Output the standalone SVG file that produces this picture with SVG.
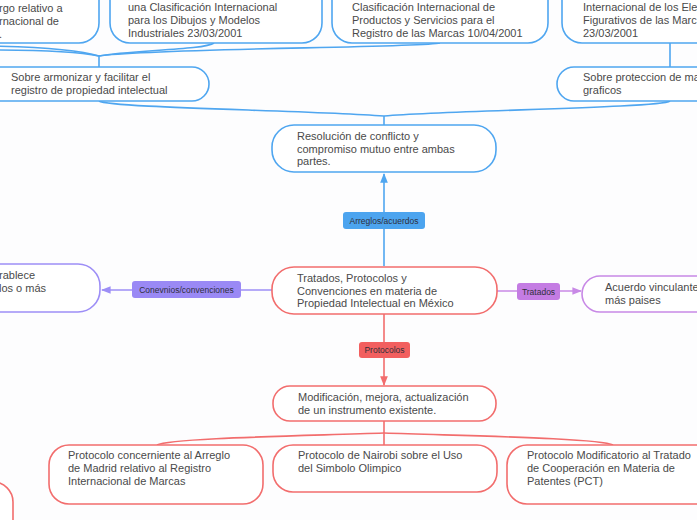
<svg xmlns="http://www.w3.org/2000/svg" width="697" height="520" viewBox="0 0 697 520">
<style>
text{font-family:"Liberation Sans",Arial,sans-serif;font-size:11px;fill:#4a4a4a}
.lbl{font-size:8.5px;fill:#2f2f3a}
.nb{fill:#ffffff;stroke:#4fa6f0;stroke-width:1.6}
.nr{fill:#ffffff;stroke:#f26d6d;stroke-width:1.6}
.np{fill:#ffffff;stroke:#9d8ef6;stroke-width:1.6}
.nm{fill:#ffffff;stroke:#c889e6;stroke-width:1.6}
.cb{fill:none;stroke:#4fa6f0;stroke-width:1.6}
.cr{fill:none;stroke:#f26d6d;stroke-width:1.6}
.cp{fill:none;stroke:#9d8ef6;stroke-width:1.6}
.cm{fill:none;stroke:#c889e6;stroke-width:1.6}
</style>
<defs>
<marker id="ab" viewBox="0 0 10 10" refX="9" refY="5" markerWidth="6" markerHeight="6" orient="auto"><path d="M0,1 L10,5 L0,9 z" fill="#4fa6f0"/></marker>
<marker id="ar" viewBox="0 0 10 10" refX="9" refY="5" markerWidth="6" markerHeight="6" orient="auto"><path d="M0,1 L10,5 L0,9 z" fill="#f26d6d"/></marker>
<marker id="ap" viewBox="0 0 10 10" refX="9" refY="5" markerWidth="6" markerHeight="6" orient="auto"><path d="M0,1 L10,5 L0,9 z" fill="#9d8ef6"/></marker>
<marker id="am" viewBox="0 0 10 10" refX="9" refY="5" markerWidth="6" markerHeight="6" orient="auto"><path d="M0,1 L10,5 L0,9 z" fill="#c889e6"/></marker>
</defs>
<rect width="697" height="520" fill="#fdfdfe"/>

<g id="connectors">
<path class="cb" d="M-10,46 C40,47 80,50 99,56"/>
<path class="cb" d="M-10,50 C40,50 80,52 99,56"/>
<path class="cb" d="M214,43 C205,50 130,50 99,56"/>
<path class="cb" d="M440,43 C420,48 150,48 99,56"/>
<path class="cb" d="M99,56 V67"/>
<path class="cb" d="M670,43 V67"/>
<path class="cb" d="M99,101 C110,108 300,110 384,116"/>
<path class="cb" d="M670,101 C660,108 460,110 384,116"/>
<path class="cb" d="M384,116 V125"/>
<path class="cb" d="M384,266 V174" marker-end="url(#ab)"/>
<path class="cp" d="M272,290 H102" marker-end="url(#ap)"/>
<path class="cm" d="M497,291 H581" marker-end="url(#am)"/>
<path class="cr" d="M384,314 V385" marker-end="url(#ar)"/>
<path class="cr" d="M384,421 V445"/>
<path class="cr" d="M384,433 C300,436 170,438 157,445"/>
<path class="cr" d="M384,433 C470,436 600,438 613,445"/>
</g>

<g id="lbl-arreglos">
<rect x="343" y="212" width="82" height="17" rx="3" fill="#4ca4ef"/>
<text class="lbl" x="384" y="223.5" text-anchor="middle">Arreglos/acuerdos</text>
</g>
<g id="lbl-conv">
<rect x="132" y="281" width="109" height="17" rx="3" fill="#9a89f5"/>
<text class="lbl" x="186.5" y="292.5" text-anchor="middle">Conevnios/convenciones</text>
</g>
<g id="lbl-tratados">
<rect x="517" y="283" width="43" height="17" rx="3" fill="#c47ce3"/>
<text class="lbl" x="538.5" y="294.5" text-anchor="middle">Tratados</text>
</g>
<g id="lbl-protocolos">
<rect x="359" y="342" width="51" height="16" rx="3" fill="#f25f5f"/>
<text class="lbl" x="384.5" y="353" text-anchor="middle">Protocolos</text>
</g>

<g id="n-top-a">
<rect class="nb" x="-120" y="-20" width="219" height="63" rx="20"/>
<text x="-1" y="12">rgo relativo a</text>
<text x="-1" y="25">rnacional de</text>
<text x="-1" y="38">.</text>
</g>
<g id="n-top-b">
<rect class="nb" x="110" y="-20" width="212" height="63" rx="20"/>
<text x="128" y="11">una Clasificación Internacional</text>
<text x="128" y="24">para los Dibujos y Modelos</text>
<text x="128" y="37">Industriales 23/03/2001</text>
</g>
<g id="n-top-c">
<rect class="nb" x="332" y="-20" width="216" height="63" rx="20"/>
<text x="352" y="11">Clasificación Internacional de</text>
<text x="352" y="24">Productos y Servicios para el</text>
<text x="352" y="37">Registro de las Marcas 10/04/2001</text>
</g>
<g id="n-top-d">
<rect class="nb" x="562" y="-20" width="200" height="63" rx="20"/>
<text x="583" y="11">Internacional de los Ele</text>
<text x="583" y="24">Figurativos de las Marc</text>
<text x="583" y="37">23/03/2001</text>
</g>

<g id="n-armonizar">
<rect class="nb" x="-20" y="67" width="229" height="34" rx="17"/>
<text x="11" y="81">Sobre armonizar y facilitar el</text>
<text x="11" y="94">registro de propiedad intelectual</text>
</g>
<g id="n-proteccion">
<rect class="nb" x="557" y="67" width="200" height="34" rx="17"/>
<text x="583" y="81">Sobre proteccion de ma</text>
<text x="583" y="94">graficos</text>
</g>

<g id="n-resolucion">
<rect class="nb" x="272" y="125" width="224" height="47" rx="22"/>
<text x="297" y="140">Resolución de conflicto y</text>
<text x="297" y="152.5">compromiso mutuo entre ambas</text>
<text x="297" y="165">partes.</text>
</g>

<g id="n-central">
<rect class="nr" x="272" y="267" width="225" height="47" rx="22"/>
<text x="297" y="282">Tratados, Protocolos y</text>
<text x="297" y="294.5">Convenciones en materia de</text>
<text x="297" y="307">Propiedad Intelectual en México</text>
</g>

<g id="n-convenios">
<rect class="np" x="-120" y="264" width="220" height="48" rx="22"/>
<text x="-1" y="279">rablece</text>
<text x="-1" y="292">los o más</text>
</g>

<g id="n-acuerdo">
<rect class="nm" x="582" y="276" width="200" height="36" rx="18"/>
<text x="605" y="291">Acuerdo vinculante</text>
<text x="605" y="304">más paises</text>
</g>

<g id="n-modificacion">
<rect class="nr" x="273" y="386" width="223" height="35" rx="17"/>
<text x="298" y="401">Modificación, mejora, actualización</text>
<text x="298" y="414">de un instrumento existente.</text>
</g>

<g id="n-madrid">
<rect class="nr" x="49" y="445" width="214" height="59" rx="20"/>
<text x="68" y="459">Protocolo concerniente al Arreglo</text>
<text x="68" y="472">de Madrid relativo al Registro</text>
<text x="68" y="485">Internacional de Marcas</text>
</g>
<g id="n-nairobi">
<rect class="nr" x="273" y="445" width="224" height="47" rx="20"/>
<text x="298" y="459">Protocolo de Nairobi sobre el Uso</text>
<text x="298" y="472">del Simbolo Olimpico</text>
</g>
<g id="n-pct">
<rect class="nr" x="507" y="445" width="220" height="59" rx="20"/>
<text x="527" y="459">Protocolo Modificatorio al Tratado</text>
<text x="527" y="472">de Cooperación en Materia de</text>
<text x="527" y="485">Patentes (PCT)</text>
</g>
<g id="n-left-bottom">
<rect class="nr" x="-200" y="482" width="213" height="80" rx="20"/>
</g>
</svg>
